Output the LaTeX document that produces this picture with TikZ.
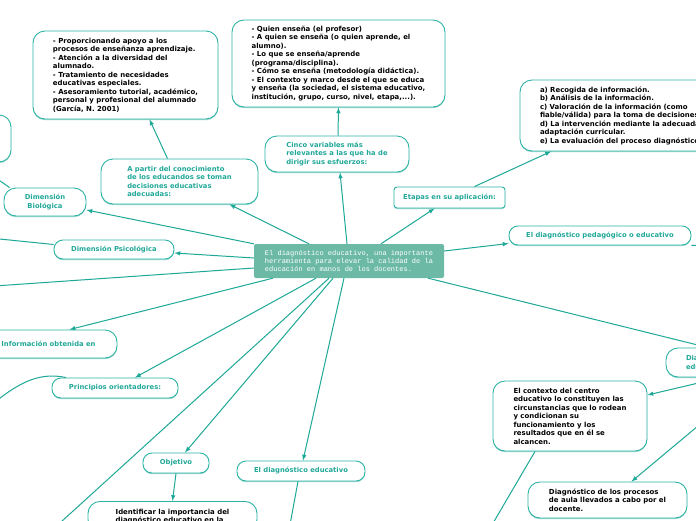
\documentclass[tikz,border=0pt]{standalone}
\usepackage{fontspec}
\setmainfont{DejaVu Sans}
\newfontfamily\monofont{Liberation Mono}
\usetikzlibrary{arrows,shadows}
\definecolor{tealline}{HTML}{1DA897}
\definecolor{tealbox}{HTML}{2DB3A5}
\definecolor{tealtext}{HTML}{22A898}
\definecolor{tealfill}{HTML}{6CBAA6}
\definecolor{tealshade}{HTML}{9ED9D1}
\tikzset{
	box/.style={draw=tealbox, line width=0.9pt, fill=white, rounded corners=12pt, align=left, inner sep=0pt, general shadow={fill=tealshade, shadow yshift=-1.2pt}},
	pill/.style={box, rounded corners=9pt},
	tbox/.style={text=tealtext, font=\fontsize{6.8}{8.6}\selectfont\bfseries},
	bbox/.style={text=black, font=\fontsize{6.95}{8.5}\selectfont\bfseries},
	conn/.style={draw=tealline, line width=1pt},
}

\begin{document}
\begin{tikzpicture}[x=1pt,y=-1pt]
		\useasboundingbox (0,0) rectangle (696,520);
		\fill[white] (0,0) rectangle (696,520);
		\clip (0,0) rectangle (696,520);
		% centre
		\node[fill=tealfill, rounded corners=2pt, inner sep=0pt, align=left, minimum width=190pt, minimum height=34pt, text=white, font=\fontsize{7}{8}\monofont] (ctr) at (349,261) {El diagnóstico educativo, una importante\\herramienta para elevar la calidad de la\\educación en manos de los docentes.};
		% top row
		\node[box, bbox, minimum width=185pt, minimum height=88pt] (props) at (125.5,75) {- Proporcionando apoyo a los\\procesos de enseñanza aprendizaje.\\- Atención a la diversidad del\\alumnado.\\- Tratamiento de necesidades\\educativas especiales.\\- Asesoramiento tutorial, académico,\\personal y profesional del alumnado\\(García, N. 2001)};
		\node[box, bbox, minimum width=213pt, minimum height=87pt] (vars) at (338.5,63.5) {- Quien enseña (el profesor)\\- A quien se enseña (o quien aprende, el\\alumno).\\- Lo que se enseña/aprende\\(programa/disciplina).\\- Cómo se enseña (metodología didáctica).\\- El contexto y marco desde el que se educa\\y enseña (la sociedad, el sistema educativo,\\institución, grupo, curso, nivel, etapa,...).};
		\node[box, bbox, inner xsep=20pt, text width=200pt, minimum height=71pt] (fases) at (640,115.5) {a) Recogida de información.\\b) Análisis de la información.\\c) Valoración de la información (como\\fiable/válida) para la toma de decisiones.\\d) La intervención mediante la adecuada\\adaptación curricular.\\e) La evaluación del proceso diagnóstico.};
		\node[box, minimum width=122pt, minimum height=47pt] (leftc) at (-50,138.5) {};
		% teal labels
		\node[box, tbox, minimum width=157pt, minimum height=45pt] (apartir) at (179.5,181.5) {A partir del conocimiento\\de los educandos se toman\\decisiones educativas\\adecuadas:};
		\node[box, tbox, minimum width=144pt, minimum height=36pt] (cinco) at (337,154) {Cinco variables más\\relevantes a las que ha de\\dirigir sus esfuerzos:};
		\node[box, tbox, rounded corners=3pt, minimum width=111pt, minimum height=21pt] (etapas) at (449.5,197.5) {Etapas en su aplicación:};
		\node[pill, tbox, minimum width=182pt, minimum height=19pt] (pedag) at (600,235.5) {El diagnóstico pedagógico o educativo};
		\node[box, tbox, align=center, minimum width=82pt, minimum height=28pt] (bio) at (45,202) {Dimensión\\Biológica};
		\node[pill, tbox, minimum width=120pt, minimum height=19pt] (psico) at (114,249.5) {Dimensión Psicológica};
		\node[box, tbox, minimum width=137pt, minimum height=28pt] (info) at (48.5,344) {Información obtenida en};
		\node[pill, tbox, minimum width=126pt, minimum height=20pt] (princ) at (115,388) {Principios orientadores:};
		\node[pill, tbox, minimum width=66pt, minimum height=20pt] (obj) at (176,463) {Objetivo};
		\node[pill, tbox, minimum width=128pt, minimum height=20pt] (diageduc) at (301,471) {El diagnóstico educativo};
		\node[box, tbox, inner xsep=20pt, text width=100pt, minimum height=29pt] (dia) at (736,362.5) {Diagnóstico del centro\\educativo};
		% bottom texts
		\node[box, bbox, anchor=north, minimum width=169pt, minimum height=30pt] (identif) at (172.5,501) {Identificar la importancia del\\diagnóstico educativo en la};
		\node[box, bbox, minimum width=154pt, minimum height=70pt] (contexto) at (570,416) {El contexto del centro\\educativo lo constituyen las\\circunstancias que lo rodean\\y condicionan su\\funcionamiento y los\\resultados que en él se\\alcancen.};
		\node[box, bbox, minimum width=159pt, minimum height=36pt] (procesos) at (607.5,500) {Diagnóstico de los procesos\\de aula llevados a cabo por el\\docente.};
		% loose ends
		\coordinate (offR) at (720,245);
		\coordinate (offBio) at (-20,167);
		\coordinate (offPsi) at (-20,237);
		\coordinate (offL) at (-20,287);
		\coordinate (offP) at (-5,402);
		\coordinate (offSW) at (50,532);
		\coordinate (offS) at (289,530);
		\coordinate (offSE) at (489,530);
		% connectors
		\draw[conn,-latex] ([xshift=-40pt]ctr.north) -- ([xshift=50pt]apartir.south);
		\draw[conn,-latex] ([xshift=-12pt]apartir.north) -- ([xshift=24pt]props.south);
		\draw[conn,-latex] ([xshift=-2pt]ctr.north) -- ([xshift=3pt]cinco.south);
		\draw[conn,-latex] ([xshift=1pt]cinco.north) -- (vars.south);
		\draw[conn,-latex] ([xshift=32pt]ctr.north) -- ([xshift=-15pt]etapas.south);
		\draw[conn,-latex] ([xshift=25pt]etapas.north) -- ([xshift=-89pt]fases.south);
		\draw[conn,-latex] ([yshift=10pt]ctr.east) -- ([yshift=-8pt]pedag.west);
		\draw[conn] (pedag.south east) -- (offR);
		\draw[conn,-latex] (ctr.north west) -- ([yshift=-8pt]bio.east);
		\draw[conn] ([xshift=6pt]bio.north west) -- (offBio);
		\draw[conn,-latex] ([yshift=3pt]ctr.west) -- ([yshift=-3.5pt]psico.east);
		\draw[conn] ([yshift=5pt]psico.west) -- (offPsi);
		\draw[conn] ([yshift=-7pt]ctr.west) -- (offL);
		\draw[conn,-latex] ([xshift=19pt]ctr.south west) -- ([xshift=21pt]info.north);
		\draw[conn,-latex] ([xshift=-33pt]ctr.south) -- ([xshift=20pt]princ.north);
		\draw[conn] ([xshift=-49pt]princ.north) .. controls (40,372) and (20,382) .. (offP);
		\draw[conn] ([xshift=-20pt]ctr.south) -- (offSW);
		\draw[conn,-latex] ([xshift=-16pt]ctr.south) -- ([xshift=9pt]obj.north);
		\draw[conn,-latex] ([xshift=-5pt]ctr.south) -- ([xshift=2pt]diageduc.north);
		\draw[conn,-latex] (obj.south) -- (identif.north);
		\draw[conn] ([xshift=-3pt]diageduc.south) -- (offS);
		\draw[conn,-latex] ([xshift=-16pt]ctr.south east) -- ([xshift=-28pt]dia.north);
		\draw[conn,-latex] ([xshift=-14pt]dia.south) -- ([yshift=21pt]contexto.east);
		\draw[conn,-latex] ([xshift=20pt]dia.south) -- ([xshift=24pt]procesos.north);
		\draw[conn] ([xshift=-35pt]contexto.south) -- (offSE);
	\end{tikzpicture}
\end{document}
